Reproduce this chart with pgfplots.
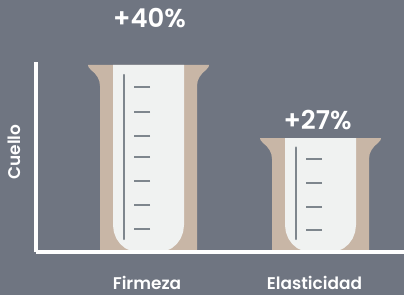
\documentclass[border=0pt]{standalone}
\usepackage{pgfplots}
\pgfplotsset{compat=1.18}
\usepackage{fontspec}
\setmainfont{Poppins}[UprightFont=* SemiBold, BoldFont=* Bold]
\definecolor{bg}{HTML}{6F7581}
\definecolor{tanc}{HTML}{C8B6A6}
\definecolor{glass}{HTML}{F0F2F1}
\definecolor{grad}{HTML}{7E868D}
\begin{document}
\begin{tikzpicture}
\fill[bg] (0,0) rectangle (404bp,295bp);
\path[use as bounding box] (0,0) rectangle (404bp,295bp);
\begin{axis}[
  at={(36bp,43bp)}, anchor=south west,
  scale only axis, width=368bp, height=189.7bp,
  xmin=36, xmax=404, ymin=6.7, ymax=40.48,
  clip=false, axis on top,
  axis x line=bottom, axis y line=left,
  axis line style={-, white, line width=4bp},
  xtick={147,314.5}, xticklabels={Firmeza,Elasticidad},
  ytick=\empty,
  major tick length=0pt,
  xticklabel style={anchor=base, yshift=-37bp, inner sep=0pt, text=white, font=\fontsize{17}{20}\selectfont},
  ylabel={Cuello},
  ylabel style={at={(axis description cs:-0.0408,0.527)}, anchor=base, inner sep=0pt, text=white, font=\fontsize{17}{20}\selectfont},
]
% beaker bodies (top = value)
\addplot[fill=tanc, draw=none] coordinates {(100,6.7) (100,36.260) (99.3,37.151) (97.5,37.863) (94.5,38.575) (91,39.110) (88.5,39.644) (88,40) (209,40) (208.5,39.644) (206,39.110) (202.5,38.575) (199.5,37.863) (197.7,37.151) (197,36.260) (197,6.7)};
\addplot[fill=tanc, draw=none] coordinates {(272,6.7) (272,23.260) (271.3,24.151) (269.5,24.863) (266.5,25.575) (263,26.110) (260.5,26.644) (260,27) (381,27) (380.5,26.644) (378,26.110) (374.5,25.575) (371.5,24.863) (369.7,24.151) (369,23.260) (369,6.7)};
% glass inside
\addplot[fill=glass, draw=none] coordinates {(113,40) (113,11.508) (113.85,10.264) (116.35,9.104) (120.32,8.108) (125.5,7.344) (131.53,6.864) (138,6.7) (159,6.7) (165.47,6.864) (171.5,7.344) (176.68,8.108) (180.65,9.104) (183.15,10.264) (184,11.508) (184,40)};
\addplot[fill=glass, draw=none] coordinates {(285,27) (285,11.508) (285.85,10.264) (288.35,9.104) (292.32,8.108) (297.5,7.344) (303.53,6.864) (310,6.7) (331,6.7) (337.47,6.864) (343.5,7.344) (348.68,8.108) (352.65,9.104) (355.15,10.264) (356,11.508) (356,27)};
% graduations
\addplot[grad, line width=2.3bp, line cap=round] coordinates {(124,9.015) (124,38.22)};
\addplot[grad, line width=2.3bp, line cap=round] coordinates {(296,9.015) (296,25.3)};
\addplot[only marks, mark=-, mark size=8bp, mark options={grad, line width=2.3bp}] coordinates {(142,36.03) (142,31.68) (142,27.36) (142,23.62) (142,19.29) (142,15.02) (142,10.80) (314,23.31) (314,19.04) (314,14.66) (314,10.62)};
% value labels
\node[anchor=base, text=white, inner sep=0pt, font=\fontsize{26}{30}\selectfont] at (axis cs:149.5,46.59) {+40\%};
\node[anchor=base, text=white, inner sep=0pt, font=\fontsize{26}{30}\selectfont] at (axis cs:317.5,28.43) {+27\%};
\end{axis}
\end{tikzpicture}
\end{document}
